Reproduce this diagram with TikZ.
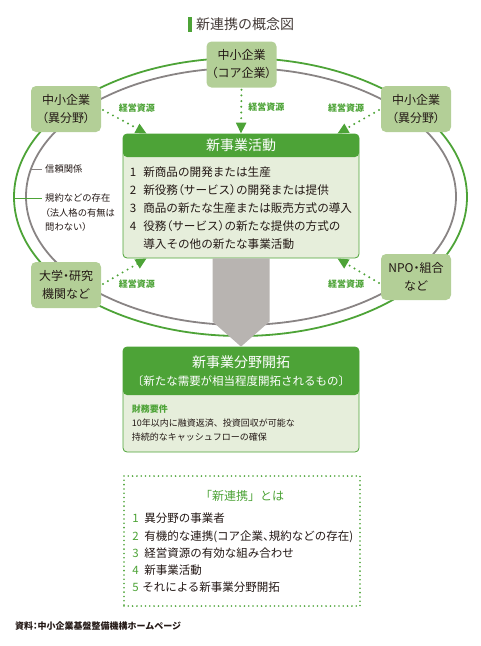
\documentclass[tikz,border=0pt]{standalone}
\usepackage{fontspec}
\setmainfont{Noto Sans CJK JP}
\newfontfamily\narrowcjk{Noto Sans CJK JP}[RawFeature=+palt]
\newcommand{\np}[1]{{\narrowcjk #1}}
\usetikzlibrary{arrows.meta, positioning, calc}
\definecolor{leafgreen}{RGB}{77,163,55}
\definecolor{nodegreen}{RGB}{179,207,151}
\definecolor{panelgreen}{RGB}{230,238,219}
\definecolor{ringgray}{RGB}{137,132,132}
\definecolor{flowgray}{RGB}{184,180,177}
\definecolor{inkdark}{RGB}{35,24,21}

\begin{document}
\begin{tikzpicture}[
    x=1pt, y=-1pt,
    font=\fontsize{12}{18}\selectfont,
    text=inkdark,
    >={Triangle[length=11pt, width=10pt]},
    partner/.style={fill=nodegreen, rounded corners=5pt, align=center, minimum width=70pt, minimum height=46pt, inner sep=2pt},
    panel/.style={draw=leafgreen, fill=panelgreen, rounded corners=4pt, minimum width=236pt, line width=0.8pt},
    head/.style={text=white, align=center, inner sep=0pt},
    res/.style={->, leafgreen, line width=2.2pt, line cap=round, dash pattern=on 0pt off 5.7pt, shorten <=2pt},
    lbl/.style={text=leafgreen, font=\fontsize{9}{10}\selectfont\bfseries, inner sep=0pt},
    note/.style={align=left, inner xsep=3pt, inner ysep=0pt, font=\fontsize{9.3}{14.5}\selectfont},
    items/.style={anchor=north west, align=left, inner sep=0pt}
]
\useasboundingbox (0,0) rectangle (480,646);

% Title
\node[anchor=west, inner sep=0pt, font=\fontsize{14}{16}\selectfont, text=inkdark!85] (title) at (196,24.5) {新連携の概念図};
\fill[leafgreen] ([xshift=-8pt,yshift=7.5pt]title.west) rectangle ([xshift=-4pt,yshift=-7.5pt]title.west);

% Rings
\draw[leafgreen, line width=1.8pt] (240.5,197) ellipse [x radius=226.5pt, y radius=139pt];
\draw[ringgray, line width=1.8pt] (241,196.5) ellipse [x radius=215pt, y radius=128.5pt];

% Partners
\node[partner] (core) at (241.5,64.5) {中小企業\\\np{（}コア企業\np{）}};
\node[partner] (lefttop) at (66,109) {中小企業\\\np{（}異分野\np{）}};
\node[partner] (righttop) at (416,109) {中小企業\\\np{（}異分野\np{）}};
\node[partner] (leftbot) at (66,285) {大学\np{・}研究\\機関など};
\node[partner] (rightbot) at (416,277) {NPO\np{・}組合\\など};

% Ring notes
\node[note, anchor=west] (trust) at (42,169) {信頼関係};
\node[note, anchor=north west] (rules) at (42,193.5) {規約などの存在\\\np{（}法人格の有無は\\問わない\np{）}};
\coordinate (trusttick) at (31,169);
\coordinate (rulestick) at (15,198);
\draw[ringgray, line width=0.6pt] (trusttick) -- (trust.west);
\draw[leafgreen, line width=0.6pt] (rulestick) -- (rulestick -| rules.west);

% New business activity
\node[panel, minimum height=124pt, path picture={\fill[leafgreen] (path picture bounding box.north west) rectangle ([yshift=-23pt]path picture bounding box.north east);}] (act) at (241,196) {};
\node[head, font=\fontsize{14}{16}\selectfont] (acthead) at ([yshift=-11.5pt]act.north) {新事業活動};
\node[items, font=\fontsize{11.6}{18}\selectfont] (actlist) at ([shift={(7pt,-33pt)}]act.north west) {%
\makebox[13.5pt][l]{1}新商品の開発または生産\\
\makebox[13.5pt][l]{2}新役務\np{（}サービス\np{）}の開発または提供\\
\makebox[13.5pt][l]{3}商品の新たな生産または販売方式の導入\\
\makebox[13.5pt][l]{4}役務\np{（}サービス\np{）}の新たな提供の方式の\\
\hspace*{13.5pt}導入その他の新たな事業活動};

% Resources
\draw[res] (lefttop.east) -- ([xshift=24pt]act.north west) node[lbl, midway, xshift=13pt, yshift=13pt] (reslt) {経営資源};
\draw[res] (core.south) -- (act.north) node[lbl, midway, xshift=25pt, yshift=4pt] (rescore) {経営資源};
\draw[res] (righttop.west) -- ([xshift=-22pt]act.north east) node[lbl, midway, xshift=-13pt, yshift=13pt] (resrt) {経営資源};
\draw[res] (leftbot.east) -- ([xshift=24pt]act.south west) node[lbl, midway, xshift=13pt, yshift=-12pt] (reslb) {経営資源};
\draw[res] ([yshift=-7pt]rightbot.west) -- ([xshift=-22pt]act.south east) node[lbl, midway, xshift=-13pt, yshift=-13pt] (resrb) {経営資源};

% New business field
\node[panel, minimum height=105pt, path picture={\fill[leafgreen] (path picture bounding box.north west) rectangle ([yshift=-48pt]path picture bounding box.north east);}] (field) at (241,399.5) {};
\node[head, font=\fontsize{14}{16}\selectfont] (fieldhead) at ([yshift=-16pt]field.north) {新事業分野開拓};
\node[head, font=\fontsize{11.5}{13}\selectfont] (fieldsub) at ([yshift=-35pt]field.north) {〔新たな需要が相当程度開拓されるもの〕};
\node[items, font=\fontsize{9}{14}\selectfont] (finance) at ([shift={(9pt,-57.5pt)}]field.north west) {%
\textcolor{leafgreen}{\bfseries 財務要件}\\
10年以内に融資返済、投資回収が可能な\\
持続的なキャッシュフローの確保};

% Flow
\fill[flowgray] ([xshift=-28.5pt]act.south) -- ([shift={(-28.5pt,25pt)}]field.north) -- (field.north) -- ([shift={(28.5pt,25pt)}]field.north) -- ([xshift=28.5pt]act.south) -- cycle;

% Definition
\node[draw=leafgreen, line width=1.8pt, dash pattern=on 0pt off 4.3pt, line cap=round, minimum width=236pt, minimum height=130pt] (define) at (242,541) {};
\node[text=leafgreen, inner sep=0pt, font=\fontsize{12}{14}\selectfont] (definehead) at ([yshift=-21pt]define.north) {「新連携」とは};
\node[items, font=\fontsize{11.5}{17.2}\selectfont] (definelist) at ([shift={(9pt,-38pt)}]define.north west) {%
\makebox[12pt][l]{\textcolor{leafgreen}{1}}異分野の事業者\\
\makebox[12pt][l]{\textcolor{leafgreen}{2}}有機的な連携(コア企業\np{、}規約などの存在)\\
\makebox[12pt][l]{\textcolor{leafgreen}{3}}経営資源の有効な組み合わせ\\
\makebox[12pt][l]{\textcolor{leafgreen}{4}}新事業活動\\
\makebox[10pt][l]{\textcolor{leafgreen}{5}}それによる新事業分野開拓};

% Source
\node[anchor=west, inner sep=0pt, font=\fontsize{9}{10}\selectfont\bfseries] (source) at (15,626) {資料\np{：}中小企業基盤整備機構ホームページ};
\end{tikzpicture}
\end{document}
